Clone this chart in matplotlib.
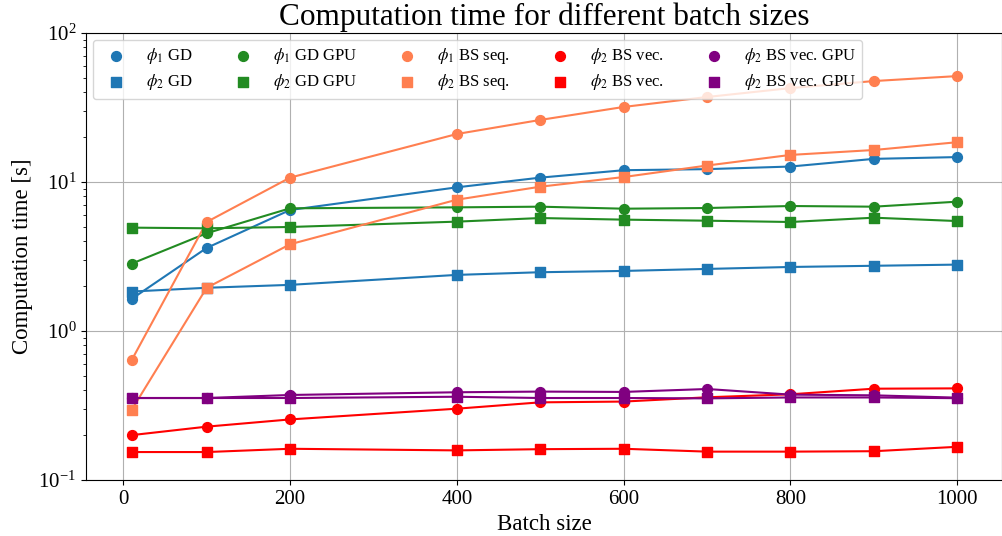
import numpy as np
import matplotlib.pyplot as plt

plt.rcParams['font.family'] = ['Liberation Serif', 'DejaVu Serif']
plt.rcParams['mathtext.fontset'] = 'stix'

batch = [10, 100, 200, 400, 500, 600, 700, 800, 900, 1000]

phi1_gd = [1.64, 3.61, 6.49, 9.21, 10.7, 12.0, 12.2, 12.7, 14.3, 14.7]
phi2_gd = [1.84, 1.95, 2.04, 2.38, 2.48, 2.53, 2.61, 2.69, 2.74, 2.79]
phi1_gd_gpu = [2.83, 4.53, 6.66, 6.76, 6.83, 6.62, 6.69, 6.90, 6.83, 7.38]
phi2_gd_gpu = [4.94, 4.89, 4.99, 5.42, 5.73, 5.59, 5.50, 5.39, 5.76, 5.47]
phi1_bs_seq = [0.636, 5.39, 10.7, 21.0, 26.1, 31.9, 37.2, 42.7, 47.6, 51.4]
phi2_bs_seq = [0.295, 1.95, 3.82, 7.61, 9.30, 10.8, 12.9, 15.2, 16.4, 18.5]
phi1_bs_vec = [0.200, 0.228, 0.255, 0.301, 0.332, 0.336, 0.359, 0.376, 0.410, 0.412]
phi2_bs_vec = [0.154, 0.154, 0.162, 0.158, 0.161, 0.162, 0.155, 0.155, 0.156, 0.167]
phi1_bs_vec_gpu = [0.355, 0.355, 0.372, 0.388, 0.392, 0.390, 0.408, 0.374, 0.370, 0.357]
phi2_bs_vec_gpu = [0.355, 0.355, 0.355, 0.362, 0.355, 0.355, 0.353, 0.358, 0.358, 0.354]

series = [
    (phi1_gd, 'tab:blue', 'o', r'$\phi_1$ GD'),
    (phi2_gd, 'tab:blue', 's', r'$\phi_2$ GD'),
    (phi1_gd_gpu, 'forestgreen', 'o', r'$\phi_1$ GD GPU'),
    (phi2_gd_gpu, 'forestgreen', 's', r'$\phi_2$ GD GPU'),
    (phi1_bs_seq, 'coral', 'o', r'$\phi_1$ BS seq.'),
    (phi2_bs_seq, 'coral', 's', r'$\phi_2$ BS seq.'),
    (phi1_bs_vec, 'red', 'o', r'$\phi_2$ BS vec.'),
    (phi2_bs_vec, 'red', 's', r'$\phi_2$ BS vec.'),
    (phi1_bs_vec_gpu, 'purple', 'o', r'$\phi_2$ BS vec. GPU'),
    (phi2_bs_vec_gpu, 'purple', 's', r'$\phi_2$ BS vec. GPU'),
]

fig = plt.figure(figsize=(10.02, 5.36), dpi=100)
ax = fig.add_axes([0.0858, 0.1045, 0.9142, 0.8339])

for vals, col, mk, lab in series:
    ax.plot(batch, vals, color=col, lw=1.5)
    ax.scatter(batch, vals, color=col, marker=mk, s=50, label=lab, zorder=3)

ax.set_yscale('log')
ax.set_ylim(0.1, 100)
ax.set_xlim(-44.7, 1053.6)
ax.set_xticks([0, 200, 400, 600, 800, 1000])
ax.grid(True, which='major')
ax.tick_params(labelsize=15)
ax.set_xlabel('Batch size', fontsize=16.5)
ax.set_ylabel('Computation time [s]', fontsize=16.5)
ax.set_title('Computation time for different batch sizes', fontsize=22.5)
ax.legend(ncol=5, loc='upper left', fontsize=12, borderaxespad=0.4,
          labelspacing=0.35)

fig.savefig('out.png', dpi=100)
